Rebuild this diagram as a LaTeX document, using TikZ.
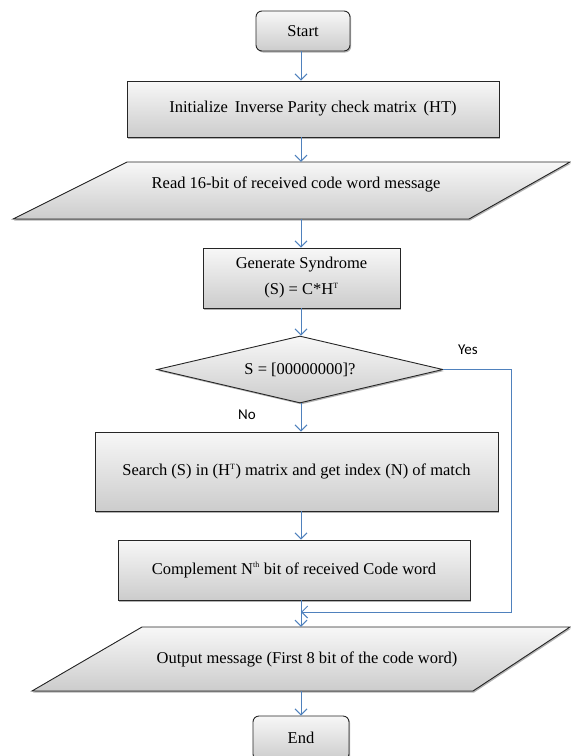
\documentclass[tikz,border=0pt]{standalone}
\usepackage{fontspec}
\setmainfont{Liberation Serif}
\newfontfamily\labfont{Carlito}
\usetikzlibrary{arrows.meta,shadows,shapes.geometric}
\definecolor{lineblue}{RGB}{79,129,189}
\newcommand{\sups}[1]{\textsuperscript{\fontsize{8}{8}\selectfont #1}}
\begin{document}
\begin{tikzpicture}[x=1pt,y=-1pt,
  boxfill/.style={top color=gray!6, bottom color=gray!40, draw=black!85, line width=0.9pt,
    drop shadow={shadow xshift=1.2pt,shadow yshift=-1.5pt,fill=black,opacity=0.3}},
  procbox/.style={boxfill, rectangle, inner sep=0pt, align=center, font=\fontsize{16.5}{26}\selectfont},
  termbox/.style={procbox, rounded corners=6pt},
  decbox/.style={boxfill, diamond, aspect=4.27, inner sep=0pt, font=\fontsize{16.5}{20}\selectfont},
  txt/.style={font=\fontsize{16.5}{20}\selectfont, align=center, inner sep=0pt},
  lab/.style={font=\labfont\fontsize{15}{16}\selectfont, inner sep=0pt},
  anchorbox/.style={rectangle, inner sep=0pt, minimum width=2pt},
  flow/.style={draw=lineblue, line width=1pt, -{Straight Barb[length=6pt,width=12pt]}}]
\clip (0,0) rectangle (571,756);
\coordinate (col) at (301,0);

% Start
\node[termbox, minimum width=94pt, minimum height=40pt] (start) at (303,31) {Start};
% Init
\node[procbox, minimum width=372pt, minimum height=56pt] (init) at (313,109) {Initialize\, Inverse Parity check matrix\, (HT)};
% Read (parallelogram)
\filldraw[boxfill] (127,162) -- (570,162) -- (469,219) -- (13,219) -- cycle;
\node[anchorbox, minimum height=57pt] (read) at (301,190.5) {};
\node[txt] (readtxt) at (296,184) {Read 16-bit of received code word message};
% Generate
\node[procbox, minimum width=197pt, minimum height=60pt] (gen) at (301.5,278) {Generate Syndrome\\(S) = C*H\sups{T}};
% Decision
\node[decbox, minimum width=286pt, minimum height=67pt] (dec) at (300,369.5) {S = [00000000]?};
% Search
\node[procbox, minimum width=403pt, minimum height=79pt] (search) at (296.5,471.5) {Search (S) in (H\sups{T}) matrix and get index (N) of match};
% Complement
\node[procbox, minimum width=352pt, minimum height=60pt] (comp) at (294,570) {Complement N\sups{th} bit of received Code word};
% Output (parallelogram)
\filldraw[boxfill] (142,627) -- (570,627) -- (473,691) -- (32,691) -- cycle;
\node[anchorbox, minimum height=64pt] (out) at (301,659) {};
\node[txt] (outtxt) at (307,659) {Output message (First 8 bit of the code word)};
% End
\node[termbox, minimum width=96pt, minimum height=44pt] (end) at (301,738) {End};

% Labels
\node[lab] (yes) at (468,350) {Yes};
\node[lab] (no) at (247,415) {No};

% Connectors
\draw[flow] (start.south -| col) -- (init.north -| col);
\draw[flow] (init.south -| col) -- (read.north -| col);
\draw[flow] (read.south -| col) -- (gen.north -| col);
\draw[flow] (gen.south -| col) -- (dec.north -| col);
\draw[flow] (dec.south -| col) -- (search.north -| col);
\draw[flow] (search.south -| col) -- (comp.north -| col);
\draw[flow] (comp.south -| col) -- (out.north -| col);
\coordinate (join) at (301,612);
\coordinate (yr) at (511,612);
\draw[flow] (dec.east) -| (yr) -- (join);
\draw[flow] (out.south -| col) -- (end.north -| col);
\end{tikzpicture}
\end{document}
